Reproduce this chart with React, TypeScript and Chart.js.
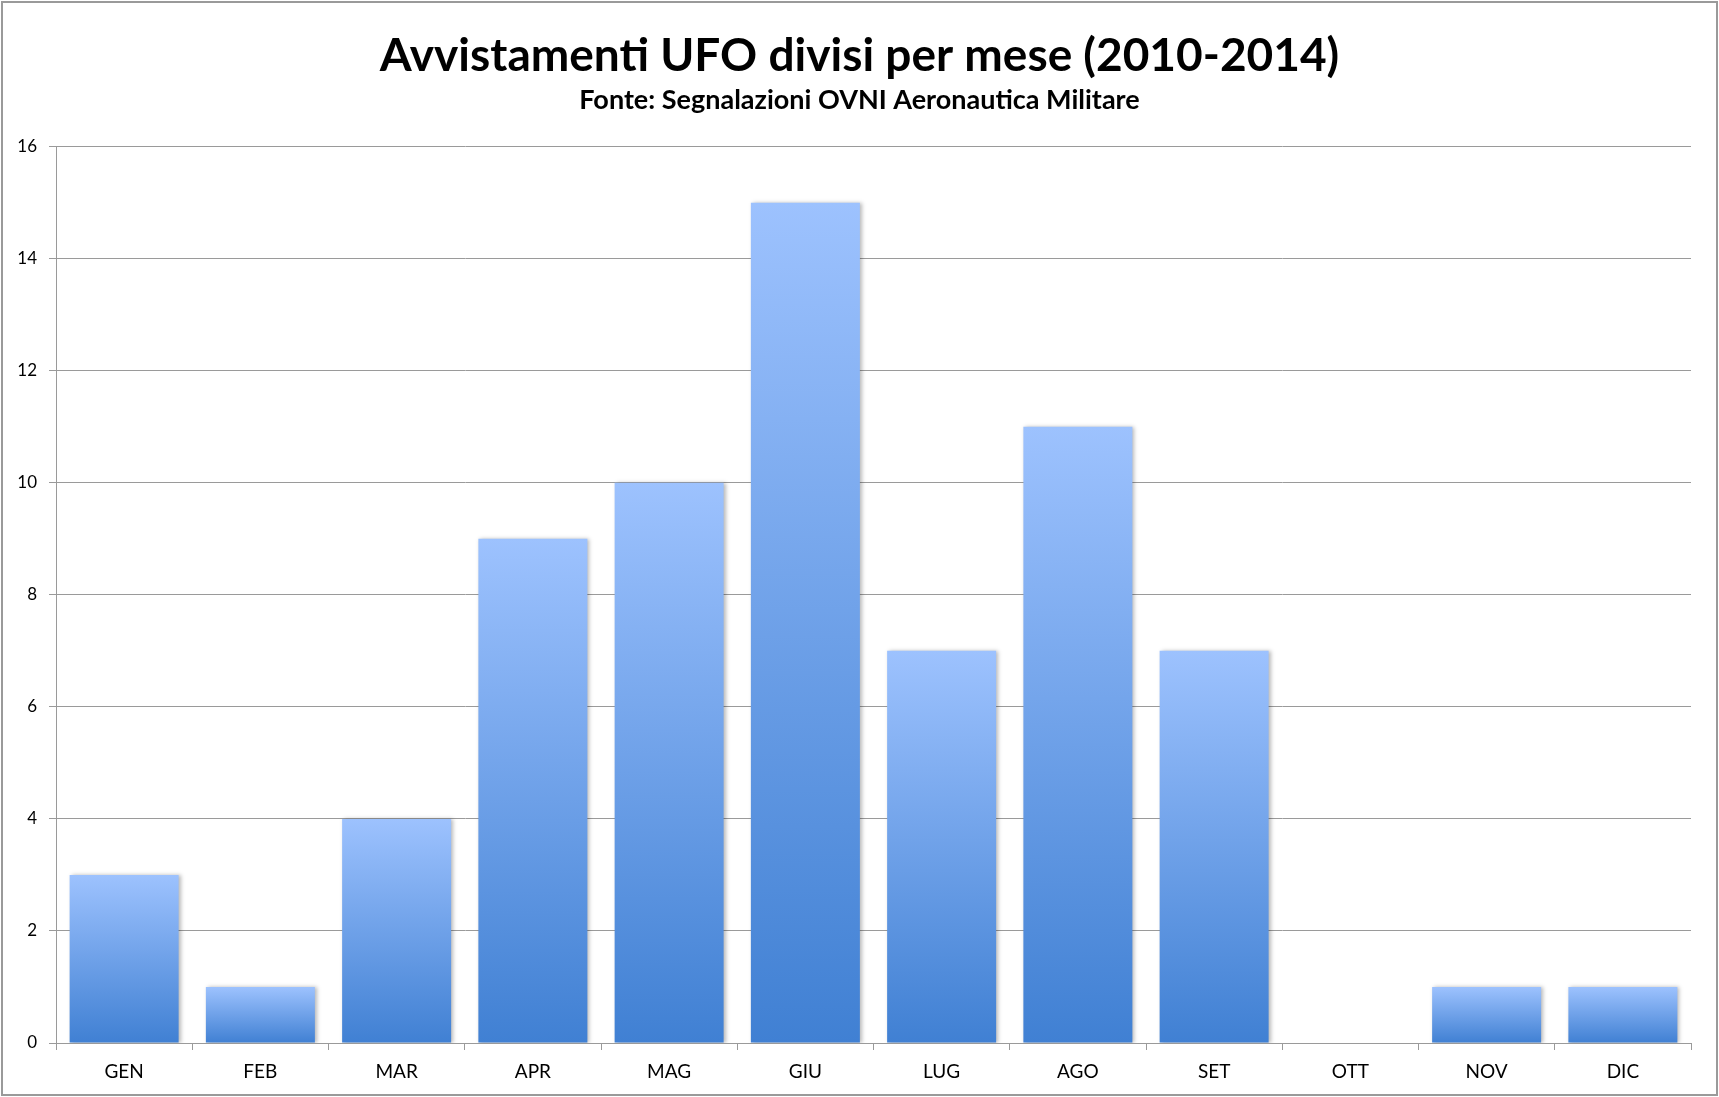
import React, { useEffect, useRef } from "react";
import { Chart, registerables } from "chart.js";

Chart.register(...registerables);

const months = ["GEN", "FEB", "MAR", "APR", "MAG", "GIU", "LUG", "AGO", "SET", "OTT", "NOV", "DIC"];
const sightings = [3, 1, 4, 9, 10, 15, 7, 11, 7, 0, 1, 1];
const yTicks = [0, 2, 4, 6, 8, 10, 12, 14, 16];
const titleText = "Avvistamenti UFO divisi per mese (2010-2014)";
const subtitleText = "Fonte: Segnalazioni OVNI Aeronautica Militare";

const FONT = "Lato, 'Open Sans', sans-serif";
const TOP_COLOR = "#9dc2fe";
const BOTTOM_COLOR = "#4080d3";
const GRID = "#9a9a9a";

export default function App() {
  const ref = useRef<HTMLCanvasElement | null>(null);

  useEffect(() => {
    document.body.style.margin = "0";
    const canvas = ref.current;
    if (!canvas) return;

    const shadowPlugin = {
      id: "barShadow",
      beforeDatasetsDraw(chart: any) {
        const c = chart.ctx;
        c.save();
        c.shadowColor = "rgba(0,0,0,0.28)";
        c.shadowBlur = 4;
        c.shadowOffsetX = 2;
        c.shadowOffsetY = 0;
      },
      afterDatasetsDraw(chart: any) {
        chart.ctx.restore();
      },
    };

    const borderPlugin = {
      id: "outerBorder",
      afterDraw(chart: any) {
        const c = chart.ctx;
        c.save();
        c.strokeStyle = "#9a9a9a";
        c.lineWidth = 2;
        c.strokeRect(2, 2, chart.width - 4, chart.height - 4);
        c.restore();
      },
    };

    const chart = new Chart(canvas, {
      type: "bar",
      data: {
        labels: months,
        datasets: [
          {
            data: sightings,
            backgroundColor: (ctx: any) => {
              const ch = ctx.chart;
              const { chartArea, scales } = ch;
              if (!chartArea || ctx.raw === undefined) return BOTTOM_COLOR;
              const yTop = scales.y.getPixelForValue(ctx.raw);
              const yBot = scales.y.getPixelForValue(0);
              if (yBot - yTop < 1) return BOTTOM_COLOR;
              const g = ch.ctx.createLinearGradient(0, yTop, 0, yBot);
              g.addColorStop(0, TOP_COLOR);
              g.addColorStop(1, BOTTOM_COLOR);
              return g;
            },
            borderWidth: 0,
            barPercentage: 0.8,
            categoryPercentage: 1.0,
          },
        ],
      },
      options: {
        animation: false,
        responsive: false,
        maintainAspectRatio: false,
        layout: { padding: { left: 0, right: 0, top: 0, bottom: 0 } },
        plugins: {
          legend: { display: false },
          tooltip: { enabled: false },
          title: {
            display: true,
            text: titleText,
            color: "#000",
            font: { family: FONT, size: 46, weight: "bold", lineHeight: 1.2 },
            padding: { top: 29, bottom: 0 },
          },
          subtitle: {
            display: true,
            text: subtitleText,
            color: "#000",
            font: { family: FONT, size: 27, weight: "bold", lineHeight: 1.2 },
            padding: { top: 0, bottom: 30 },
          },
        },
        scales: {
          x: {
            offset: true,
            grid: {
              display: true,
              offset: true,
              drawOnChartArea: false,
              drawTicks: true,
              tickLength: 7,
              color: GRID,
              lineWidth: 1,
            },
            border: { display: true, color: GRID, width: 1 },
            ticks: {
              color: "#000",
              font: { family: FONT, size: 19 },
              padding: 10,
              maxRotation: 0,
            },
            afterFit(scale: any) {
              scale.height = 54;
            },
          },
          y: {
            min: 0,
            max: 16,
            afterBuildTicks(scale: any) {
              scale.ticks = yTicks.map((v) => ({ value: v }));
            },
            grid: {
              color: GRID,
              lineWidth: 1,
              drawTicks: true,
              tickLength: 7,
            },
            border: { display: true, color: GRID, width: 1 },
            ticks: {
              color: "#000",
              font: { family: FONT, size: 17 },
              padding: 12,
            },
            afterFit(scale: any) {
              scale.width = 56;
            },
          },
          rightSpacer: {
            type: "linear",
            position: "right",
            min: 0,
            max: 16,
            grid: { display: false, drawTicks: false },
            border: { display: false },
            ticks: { display: false },
            afterFit(scale: any) {
              scale.width = 28;
            },
          },
        },
      },
      plugins: [shadowPlugin, borderPlugin],
    } as any);

    return () => chart.destroy();
  }, []);

  return (
    <div style={{ width: 1719, height: 1097, background: "#fff" }}>
      <canvas ref={ref} width={1719} height={1097} style={{ display: "block" }} />
    </div>
  );
}
